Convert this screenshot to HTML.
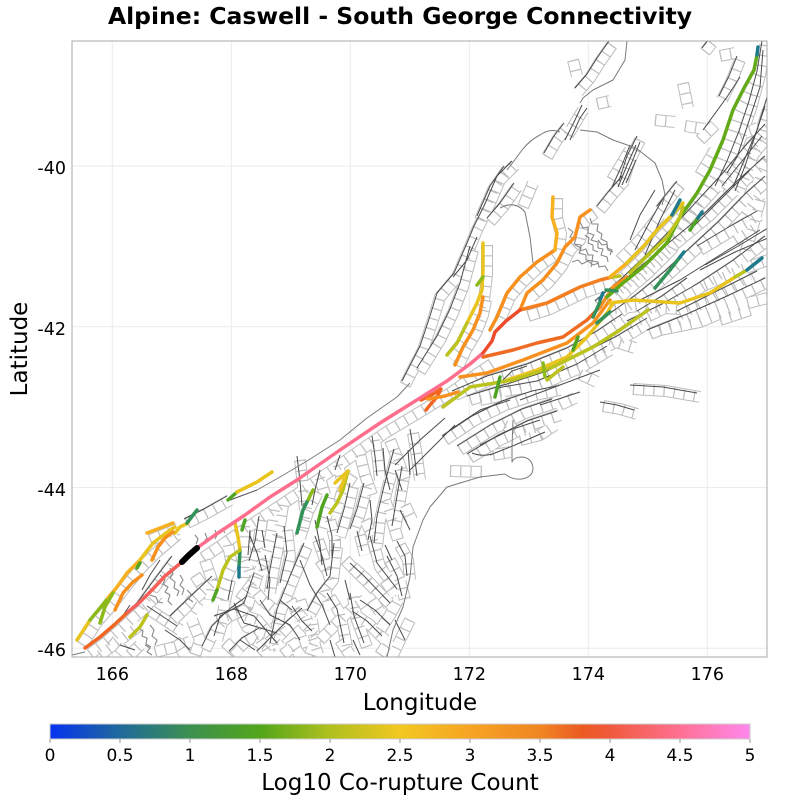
<!DOCTYPE html>
<html><head><meta charset="utf-8">
<style>
html,body{margin:0;padding:0;background:#fff;}
svg{display:block;font-family:"DejaVu Sans","Liberation Sans",sans-serif;}
.c{fill:none;stroke-width:3.5;stroke-linecap:round;stroke-linejoin:round;}
.cP{stroke:#ff6f8d}.cR{stroke:#ee4b2b}.cRO{stroke:#f26522}.cO{stroke:#f7901e}.cYO{stroke:#f7b01f}
.cY{stroke:#e9c41f}.cYG{stroke:#bcc21e}.cLG{stroke:#8cba1a}.cG{stroke:#4fa523}.cDG{stroke:#33925a}.cT{stroke:#1f7a8c}.cK{stroke:#000;stroke-width:6}
</style></head><body>
<svg width="800" height="804" viewBox="0 0 800 804" xmlns="http://www.w3.org/2000/svg">
<defs>
<clipPath id="pa"><rect x="72" y="41" width="695" height="616"/></clipPath>
<linearGradient id="cb" x1="0" x2="1" y1="0" y2="0">
<stop offset="0" stop-color="#0532f0"/><stop offset="0.1" stop-color="#1f6a9c"/><stop offset="0.2" stop-color="#3c9050"/>
<stop offset="0.3" stop-color="#52a61a"/><stop offset="0.4" stop-color="#b0c01e"/><stop offset="0.5" stop-color="#f2c820"/>
<stop offset="0.6" stop-color="#f6a423"/><stop offset="0.7" stop-color="#f08622"/><stop offset="0.76" stop-color="#ec5a22"/>
<stop offset="0.8" stop-color="#f05a3c"/><stop offset="0.9" stop-color="#ff7092"/><stop offset="1" stop-color="#ff88ee"/>
</linearGradient>
<g id="LD">
<path d="M612,45 L600,62 L590,78 L578,92"/>
<path d="M765,45 L760,75 L752,105 L742,135 L730,165 L718,190"/>
<path d="M768,110 L758,140 L748,170 L738,195"/>
<path d="M740,60 L732,80 L722,100"/>
<path d="M705,52 L712,43"/>
<path d="M640,140 L630,160 L622,185"/>
<path d="M600,210 L612,195 L625,180"/>
<path d="M598,305 L625,282 L650,258 L675,232 L700,205 L725,178 L748,150 L768,128"/>
<path d="M612,318 L640,298 L668,275 L695,250 L722,225 L748,198 L768,180"/>
<path d="M630,325 L665,308 L700,288 L735,265 L768,240"/>
<path d="M650,334 L690,318 L730,300 L768,282"/>
<path d="M660,210 L680,185"/>
<path d="M700,250 L730,232 L760,215"/>
<path d="M470,400 L510,388 L550,375 L590,355 L620,340 L650,322"/>
<path d="M500,392 L540,385 L580,368 L610,350"/>
<path d="M455,395 L490,380 L530,368 L570,352 L600,335 L625,318"/>
<path d="M633,389 L666,391 L700,397"/>
<path d="M603,406 L620,409 L637,414"/>
<path d="M445,440 L475,420 L505,405 L535,395 L560,390"/>
<path d="M460,450 L495,428 L525,413 L555,403"/>
<path d="M470,458 L500,440 L530,425 L560,415"/>
<path d="M505,385 L515,375 L530,370"/>
<path d="M405,385 L423,350 L433,320 L440,297 L457,277 L470,247 L477,230 L487,210 L500,180 L515,165"/>
<path d="M420,372 L440,340 L453,313 L463,287 L473,250"/>
<path d="M480,220 L493,190 L507,170"/>
<path d="M490,222 L503,207 L517,187"/>
<path d="M547,157 L557,140 L567,127"/>
<path d="M140,607 L160,580 L175,560"/>
<path d="M173,620 L197,597 L215,580"/>
<path d="M187,523 L207,513 L230,500"/>
<path d="M253,540 L260,557 L265,575"/>
<path d="M280,537 L273,573 L270,593"/>
<path d="M237,607 L247,627 L280,637"/>
<path d="M205,650 L215,630 L230,615 L250,600"/>
<path d="M260,655 L275,640 L290,625 L305,612"/>
<path d="M397,453 L387,490 L380,520 L377,547"/>
<path d="M367,487 L360,513 L353,533"/>
<path d="M353,487 L347,513 L340,537"/>
<path d="M337,547 L333,580 L320,597 L310,615"/>
<path d="M307,547 L293,580 L280,613 L273,647"/>
<path d="M373,540 L380,567 L400,593"/>
<path d="M353,567 L367,580 L393,607"/>
<path d="M287,530 L290,557 L283,587"/>
<path d="M257,577 L247,607 L223,620 L217,640"/>
<path d="M217,620 L237,613 L257,620 L280,647"/>
<path d="M307,507 L303,530"/>
<path d="M330,597 L340,613 L347,647"/>
<path d="M353,597 L357,620 L367,647"/>
<path d="M413,433 L417,457 L420,480"/>
<path d="M405,470 L400,500 L395,530"/>
<path d="M390,560 L400,580 L405,600"/>
<path d="M300,460 L303,485 L305,510"/>
<path d="M232,655 L245,642 L262,632"/>
<path d="M262,520 L258,545 L252,565"/>
<path d="M318,540 L325,560 L330,580"/>
<path d="M375,440 L378,460 L380,480"/>
<path d="M355,615 L370,625 L385,640"/>
<path d="M330,520 L335,540 L335,560"/>
<path d="M400,545 L408,560 L410,580"/>
<path d="M150,610 L165,620 L180,630"/>
<path d="M620,290 L650,265 L680,240 L710,215 L740,185 L768,160"/>
<path d="M680,315 L720,295 L760,275"/>
<path d="M640,315 L665,300 L690,282"/>
<path d="M725,190 L745,165 L765,140"/>
<path d="M295,610 L305,625 L315,635"/>
<path d="M360,535 L365,555"/>
</g>
<g id="LL">
<path d="M683,83 L688,108"/>
<path d="M655,120 L675,122"/>
<path d="M685,126 L705,129"/>
<path d="M720,56 L735,53"/>
<path d="M760,200 L752,230 L745,255"/>
<path d="M768,160 L757,185"/>
<path d="M610,340 L635,348"/>
<path d="M580,374 L597,382"/>
<path d="M450,471 L482,472"/>
<path d="M523,207 L533,183"/>
<path d="M568,135 L583,110"/>
<path d="M612,180 L630,150"/>
<path d="M573,60 L577,76"/>
<path d="M597,104 L610,101"/>
<path d="M487,245 L487,275 L484,300 L474,322 L463,342 L450,358"/>
<path d="M486,300 L483,315 L476,333 L466,350 L458,367"/>
<path d="M557,198 L557,218 L561,234 L559,252 L540,266 L523,282 L510,297 L500,320"/>
<path d="M595,213 L585,220 L580,240 L570,250 L562,266 L548,283 L531,297"/>
<path d="M528,316 L550,309 L583,293 L612,283"/>
<path d="M615,309 L638,306 L680,309 L712,299 L750,276"/>
<path d="M612,304 L628,290 L648,273 L672,249 L685,223 L702,198 L715,175 L728,145 L738,115 L748,95 L758,72"/>
<path d="M616,283 L632,269 L648,253 L662,236 L676,222 L688,208"/>
<path d="M203,558 L248,527 L302,491 L345,461 L385,433 L425,409 L452,392 L477,374 L492,364"/>
<path d="M90,654 L105,643 L120,630 L133,618 L146,607 L158,594"/>
<path d="M82,645 L97,622 L111,606 L127,585 L141,568 L157,552 L177,535"/>
<path d="M150,540 L178,529"/>
<path d="M245,526 L245,550 L244,578"/>
<path d="M235,560 L228,575 L220,595 L217,605"/>
<path d="M318,492 L308,512 L300,538"/>
<path d="M332,498 L322,530"/>
<path d="M353,475 L342,492 L335,516"/>
<path d="M100,655 L120,640 L140,625"/>
<path d="M205,560 L212,580 L210,600"/>
<path d="M250,585 L262,600 L275,610"/>
<path d="M225,642 L240,656"/>
<path d="M195,655 L200,640 L192,620"/>
<path d="M155,652 L175,647 L190,642"/>
<path d="M275,510 L270,540 L262,570"/>
<path d="M240,600 L255,580 L265,560"/>
<path d="M320,640 L335,625 L350,610 L365,600"/>
<path d="M380,630 L390,615 L398,600"/>
<path d="M360,455 L365,475 L372,495"/>
<path d="M390,440 L398,460 L405,480"/>
<path d="M345,560 L360,575 L375,590"/>
<path d="M320,560 L330,575"/>
<path d="M300,600 L310,630 L318,655"/>
<path d="M380,655 L390,640"/>
<path d="M283,655 L295,645 L310,640"/>
<path d="M505,425 L520,432 L535,428"/>
<path d="M560,405 L575,398"/>
<path d="M493,455 L510,452"/>
<path d="M740,135 L758,128"/>
<path d="M700,140 L715,125"/>
<path d="M283,505 L280,525 L275,545"/>
<path d="M385,500 L392,520 L398,540"/>
<path d="M230,580 L225,600 L222,620"/>
<path d="M260,640 L270,655"/>
<path d="M290,600 L300,615"/>
<path d="M310,655 L315,640 L312,620"/>
<path d="M365,520 L372,535"/>
<path d="M290,640 L300,655"/>
<path d="M245,560 L250,575"/>
<path d="M410,620 L400,640 L393,655"/>
<path d="M110,640 L125,652"/>
<path d="M175,640 L185,655"/>
<path d="M130,655 L140,645"/>
<path d="M185,600 L200,610"/>
<path d="M195,575 L205,590"/>
<path d="M660,330 L700,322 L740,305 L768,298"/>
<path d="M705,285 L740,270 L768,260"/>
<path d="M620,260 L640,240 L660,215"/>
<path d="M700,175 L715,150"/>
<path d="M745,215 L760,195"/>
<path d="M480,400 L505,395"/>
<path d="M520,440 L540,435 L555,425"/>
<path d="M228,545 L232,565"/>
<path d="M340,640 L350,655"/>
<path d="M372,600 L380,612"/>
<path d="M405,505 L412,520"/>
<path d="M325,590 L330,610"/>
<path d="M275,620 L285,635"/>
<path d="M385,580 L395,595"/>
<path d="M255,640 L268,648"/>
<path d="M320,478 L325,495"/>
<path d="M338,465 L342,480"/>
<path d="M720,320 L750,310"/>
<path d="M735,240 L755,228"/>
</g>
<g id="TT">
<path d="M655,190 L640,215 L630,240"/>
<path d="M665,195 L648,225 L635,250"/>
<path d="M675,190 L660,220 L645,255"/>
<path d="M705,265 L740,245 L768,228"/>
<path d="M520,400 L560,385 L600,370"/>
<path d="M540,405 L580,392"/>
<path d="M450,430 L480,410 L510,400"/>
<path d="M480,445 L510,430 L540,420"/>
<path d="M490,455 L515,445 L545,432"/>
<path d="M472,453 Q482,457 492,454"/>
<path d="M453,277 L467,260 L477,237"/>
<path d="M565,140 L575,120 L582,105"/>
<path d="M570,140 L580,118 L587,108"/>
<path d="M612,187 L622,165 L630,145"/>
<path d="M618,187 L628,163 L636,145"/>
<path d="M622,185 L632,162 L640,142"/>
<path d="M626,183 L636,160"/>
<path d="M703,130 L727,97 L740,77"/>
<path d="M763,50 L760,87 L747,127 L737,157 L727,173"/>
<path d="M767,97 L757,130 L743,163 L733,187"/>
<path d="M250,530 L248,555"/>
<path d="M262,530 L265,548"/>
<path d="M320,470 L315,490 L312,505"/>
<path d="M340,455 L335,470"/>
<path d="M383,448 L385,470 L390,490"/>
<path d="M395,470 L402,490"/>
<path d="M300,560 L310,585 L322,605 L330,625"/>
<path d="M260,600 L270,615 L290,625 L300,640"/>
<path d="M353,640 L360,655"/>
<path d="M330,640 L335,657"/>
<path d="M395,620 L405,640"/>
<path d="M408,450 L410,475"/>
<path d="M395,465 L420,440 L445,418"/>
<path d="M410,470 L435,445 L455,425"/>
<path d="M230,500 L257,490"/>
<path d="M160,560 L150,575 L142,590"/>
<path d="M120,620 L130,605"/>
<path d="M265,555 L270,580 L268,600"/>
<path d="M315,520 L320,545 L322,565"/>
<path d="M360,600 L375,610 L390,625"/>
<path d="M280,600 L292,610"/>
<path d="M232,580 L228,600"/>
<path d="M370,500 L372,520 L368,540"/>
<path d="M345,580 L350,600"/>
<path d="M400,510 L410,530"/>
<path d="M240,640 L255,650"/>
<path d="M385,545 L392,560"/>
<path d="M165,630 L180,640 L190,650"/>
<path d="M120,645 L135,650"/>
<path d="M640,300 L680,280 L720,255 L760,230"/>
<path d="M690,230 L720,200 L750,170"/>
<path d="M700,270 L735,252 L768,238"/>
</g>
</defs>

<g stroke="#ebebeb" stroke-width="1">
<line x1="112.3" y1="41" x2="112.3" y2="657"/><line x1="231.3" y1="41" x2="231.3" y2="657"/>
<line x1="350.3" y1="41" x2="350.3" y2="657"/><line x1="469.3" y1="41" x2="469.3" y2="657"/>
<line x1="588.3" y1="41" x2="588.3" y2="657"/><line x1="707.3" y1="41" x2="707.3" y2="657"/>
<line x1="72" y1="166" x2="767" y2="166"/><line x1="72" y1="326.8" x2="767" y2="326.8"/>
<line x1="72" y1="487.5" x2="767" y2="487.5"/><line x1="72" y1="648.3" x2="767" y2="648.3"/>
</g>

<g clip-path="url(#pa)" fill="none" stroke-linejoin="round">
<g stroke="#bdbdbd" stroke-width="12"><use href="#LD"/><use href="#LL"/></g>
<g stroke="#ffffff" stroke-width="10"><use href="#LD"/><use href="#LL"/></g>
<g stroke="#bdbdbd" stroke-width="10" stroke-dasharray="1.2 9"><use href="#LD"/><use href="#LL"/></g>
<g stroke="#4a4a4a" stroke-width="1"><use href="#LD" transform="translate(-3,-4)"/><use href="#TT"/></g>
<g stroke="#7a7a7a" stroke-width="1">
<path d="M257,490 L280,477 L307,461 L340,440 L367,418 L397,397 L410,383"/>
<path d="M387,657 L393,630 L403,607 L410,577 L413,547 L423,520 L430,507 L447,487 L480,477 L505,474"/>
<path d="M505,474 Q512,480 522,479 Q533,477 533,468 Q532,458 522,457 Q514,457 512,462 L512,447 L513,420"/>
<path d="M627,41 L625,60 L613,80 L593,90 L583,98 L580,103"/>
<path d="M580,130 L597,132 L613,140 L636,148 L655,163 L662,180 L665,195 L662,205"/>
<path d="M500,208 Q515,200 525,212 L530,237 L533,263"/>
<path d="M507,170 Q515,160 522,150 Q530,140 540,135 Q550,128 560,132"/>
<path d="M72,655 L85,652"/>
</g>
<g stroke="#888" stroke-width="1.1">
<path d="M568,228 l5,4 l-3,5 l6,2 l-2,5 l7,1 l-1,6 l6,-2 l2,6 l5,0 l-1,6 l6,1 l1,5 l6,-1 l3,5"/>
<path d="M580,222 l3,6 l5,-1 l0,6 l6,2 l-3,5 l7,2 l0,6 l5,1 l-2,6 l6,2 l1,5"/>
<path d="M590,218 l2,6 l6,0 l-1,7 l5,3 l-1,5 l6,3 l0,6 l5,2 l-2,5"/>
<path d="M575,245 l6,3 l-2,5 l7,2 l0,5 l6,1 l-1,6"/>
<path d="M598,240 l4,5 l5,-1 l1,6 l5,2"/>
<path d="M572,262 l6,-2 l4,4 l6,-3 l5,4 l6,-2"/>
<path d="M585,235 l4,3 l-1,5 l5,2 l0,5 l5,2"/>
<path d="M160,575 l5,4 l-2,5 l5,3 l-3,5 l5,3 l-2,6 l4,4"/>
<path d="M170,568 l3,6 l-3,4 l5,4 l-1,6 l5,3 l-2,5"/>
<path d="M180,575 l3,5 l-3,5 l4,4 l-2,6"/>
<path d="M150,595 l6,2 l2,5 l5,1"/>
<path d="M138,628 l5,3 l-1,5 l5,2 l-1,6 l5,3"/>
<path d="M150,625 l4,5 l-2,6 l5,4 l-2,5"/>
<path d="M195,535 l3,4 l-2,5"/><path d="M205,533 l2,5 l-3,4"/><path d="M215,530 l2,5 l-2,4"/><path d="M222,528 l3,5"/>
<path d="M145,645 l5,3 l-3,4 l5,3"/>
<path d="M187,590 l4,4 l-2,5 l4,3"/>
</g>

<g class="c">
<path class="c cRO" d="M85,648 L100,637 L114,625 L128,612"/>
<path class="c" style="stroke:#f5605a" d="M128,612 L140,602 L152,590 L165,576 L182,562"/>
<path class="c cY" d="M77,640 L90,620"/>
<path class="c cLG" d="M90,620 L100,608 L108,598"/>
<path class="c cYO" d="M108,598 L117,587 L127,573 L140,560"/>
<path class="c cY" d="M140,560 L153,543 L170,530 L175,527"/>
<path class="c cYO" d="M147,533 L155,530 L173,523"/>
<path class="c cY" d="M175,533 L180,527 L188,523"/>
<path class="c cO" d="M115,610 L123,593 L132,583 L142,575"/>
<path class="c cO" d="M152,560 L158,547 L165,538 L173,532"/>
<path class="c cLG" d="M100,623 L105,607 L113,593"/>
<path class="c cG" d="M137,568 L140,563"/>
<path class="c cYG" d="M130,637 L140,627 L147,615"/>
<path class="c cDG" d="M187,523 L197,510"/>
<path class="c cG" d="M228,500 L237,492"/>
<path class="c cY" d="M237,492 L257,482 L272,472"/>
<path class="c cY" d="M235,523 L238,537 L240,550"/>
<path class="c cDG" d="M240,550 L239,567"/>
<path class="c cT" d="M239,567 L239,577"/>
<path class="c cYG" d="M240,550 L230,557 L223,570 L217,590"/>
<path class="c cG" d="M217,590 L213,600"/>
<path class="c cG" d="M245,520 L242,530"/>
<path class="c cLG" d="M313,490 L307,502"/>
<path class="c cDG" d="M307,502 L303,510 L297,533"/>
<path class="c cG" d="M327,495 L322,507 L317,527"/>
<path class="c cYG" d="M348,471 L343,490 L337,503 L330,513"/>
<path class="c cY" d="M348,471 L335,483"/>
<path class="c cY" d="M346,474 L340,490"/>
<path class="c cY" d="M483,243 L483,270 L482,290 L477,303 L467,323"/>
<path class="c cYG" d="M467,323 L457,343 L447,355"/>
<path class="c cLG" d="M477,285 L483,277"/>
<path class="c cO" d="M483,297 L480,313 L473,330 L463,347 L455,365"/>
<path class="c cO" d="M490,330 L497,317 L507,293 L520,277 L537,262 L555,250"/>
<path class="c cYO" d="M555,250 L557,233 L552,217 L553,197"/>
<path class="c cO" d="M520,310 L527,293 L543,280 L557,263 L565,247 L575,237 L580,217 L590,210"/>
<path class="c" style="stroke:#f47f20" d="M520,310 L547,303 L580,287 L600,280 L612,277"/>
<path class="c cYG" d="M612,277 L620,276"/>
<path class="c" style="stroke:#ef6a22" d="M483,357 L513,350 L537,343 L563,337 L587,320 L600,307"/>
<path class="c cO" d="M600,307 L613,287 L627,277"/>
<path class="c cO" d="M460,377 L487,373 L523,360 L567,343 L593,323 L610,300"/>
<path class="c cY" d="M507,380 L537,370 L567,357 L587,337 L607,313 L613,303"/>
<path class="c cYG" d="M443,407 L470,387 L513,380 L553,367 L593,347 L620,330 L648,310"/>
<path class="c cY" d="M610,303 L633,300 L680,303 L710,293 L735,277"/>
<path class="c cYG" d="M735,277 L747,270"/>
<path class="c cT" d="M747,270 L762,258"/>
<path class="c cRO" d="M421,400 L433,394 L441,389 L437,397 L430,405 L426,410"/>
<path class="c cO" d="M428,399 L445,396 L458,392"/>
<path class="c" style="stroke:#62aa18" d="M607,297 L623,283 L643,267 L667,243 L680,217 L697,193 L710,170 L723,140 L733,110 L743,90 L754,70 L757,55"/>
<path class="c cT" d="M757,55 L758,47"/>
<path class="c cYO" d="M610,277 L627,263"/>
<path class="c cY" d="M627,263 L643,247 L657,230 L670,217 L683,203"/>
<path class="c cYG" d="M630,273 L648,255 L667,237 L680,217 L683,207"/>
<path class="c cDG" d="M655,288 L670,270 L680,257"/>
<path class="c cT" d="M680,257 L684,252"/>
<path class="c cG" d="M690,230 L698,218"/>
<path class="c cT" d="M698,218 L702,212"/>
<path class="c cT" d="M672,215 L680,200"/>
<path class="c cDG" d="M606,290 L617,291"/>
<path class="c cT" d="M600,300 L603,293"/>
<path class="c cDG" d="M600,302 L593,317"/>
<path class="c cDG" d="M610,312 L597,323"/>
<path class="c cG" d="M578,337 L573,350"/>
<path class="c cLG" d="M543,363 L545,377"/>
<path class="c cYG" d="M563,367 L547,380"/>
<path class="c cG" d="M500,377 L495,397"/>
<path class="c cP" d="M197,548 L215,535 L245,515 L270,497 L297,480 L340,450 L380,423 L420,398 L447,381 L470,364 L483,353"/>
<path class="c cR" d="M483,353 L492,341 L495,332 L506,321 L520,310"/>
<path class="c cK" d="M182,562 L189,555 L197,548"/>
</g>
</g>

<rect x="72" y="41" width="695" height="616" fill="none" stroke="#aaaaaa" stroke-width="1"/>

<text x="400" y="24" text-anchor="middle" font-size="23.5" font-weight="bold" fill="#000">Alpine: Caswell - South George Connectivity</text>

<g font-size="17.5" fill="#000" text-anchor="middle">
<text x="112.3" y="680">166</text><text x="231.3" y="680">168</text><text x="350.3" y="680">170</text>
<text x="469.3" y="680">172</text><text x="588.3" y="680">174</text><text x="707.3" y="680">176</text>
</g>
<g font-size="17.5" fill="#000" text-anchor="end">
<text x="66" y="174">-40</text><text x="66" y="335">-42</text><text x="66" y="496">-44</text><text x="66" y="656">-46</text>
</g>
<text x="420" y="710" text-anchor="middle" font-size="23" fill="#000">Longitude</text>
<text transform="translate(27,349) rotate(-90)" text-anchor="middle" font-size="23" fill="#000">Latitude</text>

<rect x="50" y="724" width="700" height="15" fill="url(#cb)" stroke="#cccccc" stroke-width="1"/>
<g stroke="#999" stroke-width="1">
<line x1="50" y1="739" x2="50" y2="743"/><line x1="120" y1="739" x2="120" y2="743"/><line x1="190" y1="739" x2="190" y2="743"/>
<line x1="260" y1="739" x2="260" y2="743"/><line x1="330" y1="739" x2="330" y2="743"/><line x1="400" y1="739" x2="400" y2="743"/>
<line x1="470" y1="739" x2="470" y2="743"/><line x1="540" y1="739" x2="540" y2="743"/><line x1="610" y1="739" x2="610" y2="743"/>
<line x1="680" y1="739" x2="680" y2="743"/><line x1="750" y1="739" x2="750" y2="743"/>
</g>
<g font-size="17" fill="#000" text-anchor="middle">
<text x="50" y="761">0</text><text x="120" y="761">0.5</text><text x="190" y="761">1</text><text x="260" y="761">1.5</text>
<text x="330" y="761">2</text><text x="400" y="761">2.5</text><text x="470" y="761">3</text><text x="540" y="761">3.5</text>
<text x="610" y="761">4</text><text x="680" y="761">4.5</text><text x="750" y="761">5</text>
</g>
<text x="400" y="790" text-anchor="middle" font-size="23" fill="#000">Log10 Co-rupture Count</text>
</svg>
</body></html>
